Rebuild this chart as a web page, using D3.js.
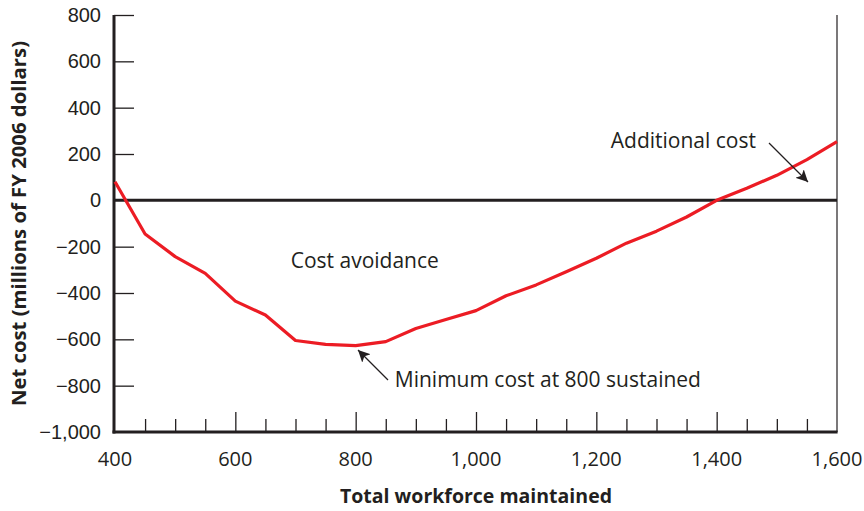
<!DOCTYPE html>
<html>
<head>
<meta charset="utf-8">
<script src="https://cdn.jsdelivr.net/npm/d3@7"></script>
<style>
  html, body { margin: 0; padding: 0; background: #fff; }
  svg { display: block; font-family: "Open Sans", "Noto Sans", sans-serif; }
</style>
</head>
<body>
<svg id="chart" width="864" height="511"></svg>
<script>
const workforce = [400, 450, 500, 550, 600, 650, 700, 750, 800, 850, 900, 950, 1000, 1050, 1100, 1150, 1200, 1250, 1300, 1350, 1400, 1450, 1500, 1550, 1600];
const netCost = [80, -145, -243, -315, -435, -495, -605, -622, -627, -610, -553, -514, -476, -412, -365, -308, -250, -185, -133, -72, 0, 52, 108, 176, 253];
const xTickLabels = [400, 600, 800, 1000, 1200, 1400, 1600];
const xMinorTicks = d3.range(400, 1601, 50);
const yTickLabels = [800, 600, 400, 200, 0, -200, -400, -600, -800, -1000];
const annotations = [
  { text: "Cost avoidance", x: 692, y: -292 },
  { text: "Additional cost", x: 1224, y: 226 },
  { text: "Minimum cost at 800 sustained", x: 865, y: -806 }
];

const svg = d3.select("#chart");
const ink = "#231f20";
const x = d3.scaleLinear().domain([400, 1600]).range([115, 837]);
const y = d3.scaleLinear().domain([-1000, 800]).range([432, 15]);
const fmt = d3.format(",");
const minus = v => fmt(v).replace("-", "\u2212");

// right frame line
svg.append("line")
  .attr("x1", x(1600)).attr("x2", x(1600))
  .attr("y1", y(800)).attr("y2", y(-1000))
  .attr("stroke", ink).attr("stroke-width", 1.2);

// x-axis minor/major ticks (inward)
const xAxis = d3.axisBottom(x).tickValues(xMinorTicks).tickFormat("").tickSizeOuter(0).tickSizeInner(0);
const gx = svg.append("g").attr("transform", `translate(0,${y(-1000)})`).call(xAxis);
gx.select(".domain").remove();
gx.selectAll(".tick line")
  .attr("y1", 0)
  .attr("y2", d => (d % 200 === 0 ? -20 : -13))
  .attr("stroke", ink).attr("stroke-width", 1.3);
gx.selectAll(".tick").filter(d => d === 400 || d === 1600).remove();

// x tick labels
svg.append("g").selectAll("text").data(xTickLabels).join("text")
  .attr("x", d => x(d)).attr("y", 466)
  .attr("text-anchor", "middle")
  .attr("font-size", 20).attr("fill", ink)
  .text(d => fmt(d));

// y-axis ticks (inward)
const yAxis = d3.axisLeft(y).tickValues(yTickLabels).tickFormat(minus).tickSizeInner(0).tickSizeOuter(0).tickPadding(13);
const gy = svg.append("g").attr("transform", `translate(${x(400) - 1},0)`).call(yAxis);
gy.select(".domain").remove();
gy.selectAll(".tick line")
  .attr("x1", 0).attr("x2", d => (d === -1000 || d === 0 ? 0 : 20))
  .attr("stroke", ink).attr("stroke-width", 1.3);
gy.selectAll(".tick text").attr("font-size", 20).attr("fill", ink).attr("font-family", null);

// zero line
svg.append("line")
  .attr("x1", x(400)).attr("x2", x(1600))
  .attr("y1", y(0)).attr("y2", y(0))
  .attr("stroke", ink).attr("stroke-width", 3);

// axis lines
svg.append("line")
  .attr("x1", x(400) - 1).attr("x2", x(400) - 1)
  .attr("y1", y(800)).attr("y2", y(-1000) + 1.5)
  .attr("stroke", ink).attr("stroke-width", 3);
svg.append("line")
  .attr("x1", x(400) - 2.5).attr("x2", x(1600) + 0.6)
  .attr("y1", y(-1000)).attr("y2", y(-1000))
  .attr("stroke", ink).attr("stroke-width", 3);

// data line
const line = d3.line().x((d, i) => x(workforce[i])).y(d => y(d));
svg.append("path")
  .datum(netCost)
  .attr("d", line)
  .attr("fill", "none")
  .attr("stroke", "#ec1c24")
  .attr("stroke-width", 3.2)
  .attr("stroke-linejoin", "round");

// arrow marker
svg.append("defs").append("marker")
  .attr("id", "arrow")
  .attr("viewBox", "0 0 10 10")
  .attr("refX", 10).attr("refY", 5)
  .attr("markerWidth", 12).attr("markerHeight", 12)
  .attr("markerUnits", "userSpaceOnUse")
  .attr("orient", "auto")
  .append("path").attr("d", "M0,0 L10,5 L0,10 L2.5,5 Z").attr("fill", ink);

// annotations
svg.append("g").selectAll("text").data(annotations).join("text")
  .attr("x", d => x(d.x)).attr("y", d => y(d.y))
  .attr("font-size", 21).attr("fill", ink)
  .text(d => d.text);

svg.append("line")
  .attr("x1", 388).attr("y1", 380).attr("x2", 358).attr("y2", 350)
  .attr("stroke", ink).attr("stroke-width", 1.3).attr("marker-end", "url(#arrow)");
svg.append("line")
  .attr("x1", 769).attr("y1", 143).attr("x2", 808).attr("y2", 182)
  .attr("stroke", ink).attr("stroke-width", 1.3).attr("marker-end", "url(#arrow)");

// axis titles
svg.append("text")
  .attr("x", 476).attr("y", 503)
  .attr("text-anchor", "middle")
  .attr("font-size", 19.5).attr("font-weight", "bold").attr("fill", ink)
  .text("Total workforce maintained");
svg.append("text")
  .attr("transform", "translate(26,223.5) rotate(-90)")
  .attr("text-anchor", "middle")
  .attr("font-size", 20.3).attr("font-weight", "bold").attr("fill", ink)
  .text("Net cost (millions of FY 2006 dollars)");
</script>
</body>
</html>
